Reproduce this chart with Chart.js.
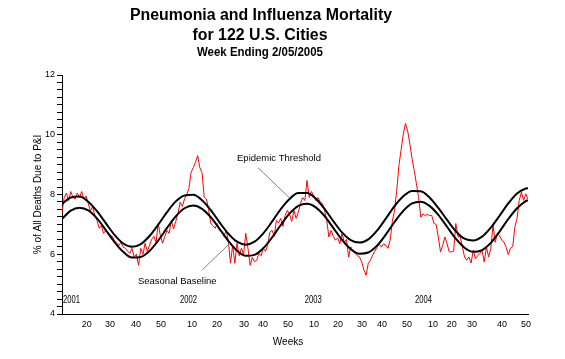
<!DOCTYPE html>
<html>
<head>
<meta charset="utf-8">
<script src="https://cdn.jsdelivr.net/npm/chart.js@4/dist/chart.umd.min.js"></script>
<style>
  html, body { margin: 0; padding: 0; background: #fff; }
  #wrap { width: 565px; height: 359px; position: relative; }
</style>
</head>
<body>
<div id="wrap"><canvas id="c" width="565" height="359"></canvas></div>
<script>
// ---- Data ----
// Weekly % of deaths due to P&I (week index 0 = first week plotted)
const observed = [
  7.40, 7.90, 8.05, 7.80, 8.10, 7.90, 7.85, 8.05, 7.90, 8.10,
  7.85, 7.95, 7.70, 7.45, 7.60, 7.30, 7.13, 6.87, 6.95, 6.70,
  6.80, 6.75, 6.63, 6.60, 6.45, 6.37, 6.30, 6.40, 6.24, 6.20,
  6.10, 6.03, 6.20, 5.91, 6.00, 5.63, 6.20, 6.00, 6.37, 6.10,
  6.30, 6.50, 6.60, 6.40, 7.03, 6.60, 6.37, 6.60, 6.80, 6.70,
  7.13, 6.85, 7.10, 7.37, 7.74, 7.60, 7.85, 8.00, 8.20, 8.74,
  8.90, 9.08, 9.30, 8.90, 8.74, 7.91, 7.85, 7.50, 7.03, 6.95,
  6.87, 7.03, 6.80, 6.77, 6.60, 6.80, 6.47, 5.70, 6.30, 5.70,
  6.37, 5.95, 6.20, 6.00, 6.70, 6.20, 5.63, 5.90, 5.75, 5.80,
  6.03, 5.95, 6.20, 6.10, 6.30, 6.74, 6.80, 6.60, 7.13, 7.05,
  7.20, 6.93, 7.30, 7.47, 7.35, 7.10, 7.47, 7.20, 7.40, 7.70,
  7.90, 7.80, 8.47, 7.90, 8.10, 7.97, 7.80, 7.90, 7.75, 7.70,
  7.47, 7.13, 6.58, 6.80, 6.60, 6.47, 6.55, 6.35, 6.70, 6.40,
  6.50, 5.91, 6.25, 6.10, 6.03, 5.95, 5.91, 5.74, 5.47, 5.30,
  5.70, 5.80, 5.97, 6.10, 6.24, 6.35, 6.24, 6.35, 6.30, 6.20,
  6.47, 7.10, 7.47, 8.13, 8.97, 9.50, 10.02, 10.38, 10.13, 9.69,
  9.20, 8.80, 8.36, 7.90, 7.24, 7.35, 7.30, 7.33, 7.30, 7.30,
  7.03, 7.00, 6.58, 6.08, 6.30, 6.58, 6.35, 6.08, 6.08, 6.10,
  7.03, 6.58, 6.60, 6.25, 5.91, 5.80, 5.91, 5.71, 6.14, 5.85,
  5.95, 6.03, 6.14, 5.74, 6.25, 5.91, 6.20, 6.97, 6.40, 6.69,
  6.63, 6.47, 6.41, 6.24, 5.99, 6.20, 6.25, 6.91, 7.20, 7.80,
  8.08, 7.80, 8.02, 7.85
];

// Seasonal baseline and epidemic threshold, read every 4th week
const curveWeeks = [0,4,8,12,16,20,24,28,32,36,40,44,48,52,56,60,64,68,72,76,80,84,88,92,96,100,
  104,108,112,116,120,124,128,132,136,140,144,148,152,156,160,164,168,172,176,180,184,188,192,196,200,204,208,212,213];
const baseline = [7.18,7.46,7.56,7.47,7.20,6.81,6.41,6.08,5.89,5.91,6.11,6.46,6.88,7.27,7.54,7.63,7.52,7.24,6.85,6.45,
  6.12,5.95,5.98,6.20,6.56,6.98,7.36,7.62,7.69,7.57,7.28,6.88,6.48,6.17,6.02,6.06,6.29,6.66,7.08,7.45,
  7.70,7.76,7.62,7.32,6.92,6.52,6.22,6.08,6.14,6.38,6.76,7.18,7.54,7.78,7.81];
const threshold = [7.68,7.90,7.93,7.76,7.44,7.04,6.65,6.36,6.25,6.34,6.61,6.99,7.41,7.77,7.97,7.99,7.81,7.48,7.07,6.69,
  6.42,6.32,6.42,6.70,7.09,7.51,7.85,8.05,8.05,7.86,7.52,7.11,6.73,6.47,6.39,6.50,6.79,7.19,7.61,7.94,
  8.12,8.11,7.90,7.55,7.15,6.77,6.52,6.46,6.59,6.89,7.29,7.70,8.03,8.20,8.21];

// Tick labels along the week axis and where they sit
const weekTickLabels = ['20','30','40','50','10','20','30','40','50','10','20','30','40','50','10','20','30','40','50'];
const weekTickPos = [11.3,21.9,33.8,45.2,59.4,70.8,83.2,91.9,103.3,115.2,126.1,137.1,146.3,157.7,169.6,178.2,187.4,201.1,212.1];
const yearLabels = ['2001','2002','2003','2004'];
const yearLabelPos = [0.5, 53.9, 111.0, 161.3];   // left edge of each year label
const yTickLabels = [4, 6, 8, 10, 12];

const titleLines = ['Pneumonia and Influenza Mortality', 'for 122 U.S. Cities', 'Week Ending 2/05/2005'];
const yAxisTitle = '% of All Deaths Due to P&I';
const xAxisTitle = 'Weeks';
const annotations = [
  { text: 'Epidemic Threshold', x: 80.0, y: 9.2, from: [89.6, 8.9], to: [104.2, 7.87] },
  { text: 'Seasonal Baseline', x: 34.7, y: 5.1, from: [64.0, 5.47], to: [76.8, 6.37] }
];

// ---- Chart ----
const FONT = '"Liberation Sans", Arial, sans-serif';

function fitText(ctx, text, cx, cy, width) {
  const w = ctx.measureText(text).width;
  ctx.save();
  ctx.translate(cx, cy);
  ctx.scale(width / w, 1);
  ctx.fillText(text, 0, 0);
  ctx.restore();
}

const overlay = {
  id: 'overlay',
  afterDraw(chart) {
    const ctx = chart.ctx;
    const xs = chart.scales.x, ys = chart.scales.y;
    ctx.save();
    ctx.fillStyle = '#000';
    ctx.textAlign = 'center';
    ctx.textBaseline = 'middle';
    ctx.font = 'bold 16px ' + FONT;
    fitText(ctx, titleLines[0], 261, 16, 262);
    fitText(ctx, titleLines[1], 260, 36, 135);
    ctx.font = 'bold 12.5px ' + FONT;
    fitText(ctx, titleLines[2], 260, 53, 126);

    // year labels inside the plot
    ctx.font = '10.5px ' + FONT;
    ctx.textAlign = 'left';
    const yy = ys.getPixelForValue(4.47);
    yearLabels.forEach((t, k) => fitText(ctx, t, xs.getPixelForValue(yearLabelPos[k]), yy, 17));

    // axis titles
    ctx.textAlign = 'center';
    ctx.font = '10px ' + FONT;
    ctx.fillText(xAxisTitle, 288, 342);
    ctx.save();
    ctx.translate(38, (ys.top + ys.bottom) / 2);
    ctx.rotate(-Math.PI / 2);
    ctx.fillText(yAxisTitle, 0, 0);
    ctx.restore();

    // annotations
    annotations.forEach(a => {
      ctx.strokeStyle = '#808080';
      ctx.lineWidth = 1;
      ctx.beginPath();
      ctx.moveTo(xs.getPixelForValue(a.from[0]), ys.getPixelForValue(a.from[1]));
      ctx.lineTo(xs.getPixelForValue(a.to[0]), ys.getPixelForValue(a.to[1]));
      ctx.stroke();
      ctx.textAlign = 'left';
      ctx.fillStyle = '#000';
      ctx.font = '9.5px ' + FONT;
      ctx.fillText(a.text, xs.getPixelForValue(a.x), ys.getPixelForValue(a.y));
    });
    ctx.restore();
  }
};

new Chart(document.getElementById('c'), {
  type: 'line',
  data: {
    datasets: [
      {
        label: 'Observed',
        data: observed.map((v, i) => ({ x: i, y: v })),
        borderColor: '#ff0000',
        borderWidth: 1,
        pointRadius: 0,
        tension: 0,
        order: 3
      },
      {
        label: 'Epidemic Threshold',
        data: curveWeeks.map((w, k) => ({ x: w, y: threshold[k] })),
        borderColor: '#000',
        borderWidth: 2,
        pointRadius: 0,
        cubicInterpolationMode: 'monotone',
        order: 1
      },
      {
        label: 'Seasonal Baseline',
        data: curveWeeks.map((w, k) => ({ x: w, y: baseline[k] })),
        borderColor: '#000',
        borderWidth: 2,
        pointRadius: 0,
        cubicInterpolationMode: 'monotone',
        order: 2
      }
    ]
  },
  options: {
    responsive: false,
    animation: false,
    events: [],
    layout: { padding: { top: 75, right: 37, left: 0, bottom: 0 } },
    plugins: { legend: { display: false }, tooltip: { enabled: false }, title: { display: false } },
    scales: {
      x: {
        type: 'linear',
        min: 0,
        max: 213,
        afterBuildTicks(scale) { scale.ticks = weekTickPos.map(v => ({ value: v })); },
        afterFit(scale) { scale.height = 45; },
        ticks: {
          autoSkip: false,
          maxRotation: 0,
          padding: 5,
          color: '#000',
          font: { family: FONT, size: 9 },
          callback(value, index) { return weekTickLabels[index]; }
        },
        grid: { display: false, tickLength: 0 },
        border: { display: true, color: '#000', width: 1 }
      },
      y: {
        type: 'linear',
        min: 4,
        max: 12,
        afterFit(scale) { scale.width = 62; },
        ticks: {
          stepSize: 0.25,
          autoSkip: false,
          padding: 2,
          color: '#000',
          font: { family: FONT, size: 9 },
          callback(value) { return yTickLabels.includes(value) ? String(value) : ''; }
        },
        grid: { drawOnChartArea: false, drawTicks: true, tickLength: 5, color: '#000' },
        border: { display: true, color: '#000', width: 1 }
      }
    }
  },
  plugins: [overlay]
});
</script>
</body>
</html>
